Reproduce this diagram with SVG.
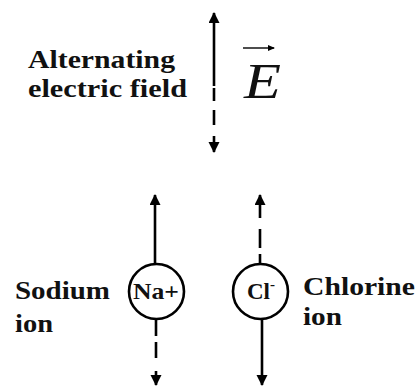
<svg xmlns="http://www.w3.org/2000/svg" width="417" height="389" viewBox="0 0 417 389">
<style>
.lbl{font-family:Tinos,"Liberation Serif",FreeSerif,"Nimbus Roman","Noto Serif","DejaVu Serif",Georgia,serif;font-weight:bold;font-size:26px;fill:#111}
.ion{font-family:Tinos,"Liberation Serif",FreeSerif,"Nimbus Roman","Noto Serif","DejaVu Serif",Georgia,serif;font-weight:bold;font-size:23px;fill:#111}
.ln{stroke:#000;stroke-width:2.6;fill:none}
.circ{stroke:#000;stroke-width:2.6;fill:#fff}
.ev{font-family:Tinos,"Liberation Serif",FreeSerif,"Nimbus Roman","Noto Serif","DejaVu Serif",Georgia,serif;font-style:italic;font-size:50px;fill:#111}
</style>
<defs>
<marker id="ah" markerUnits="userSpaceOnUse" markerWidth="12" markerHeight="12" refX="10" refY="5.5" orient="auto">
<path d="M0,0 L11,5.5 L0,11 Z" fill="#000"/>
</marker>
<marker id="ahs" markerUnits="userSpaceOnUse" markerWidth="8" markerHeight="8" refX="6" refY="3" orient="auto">
<path d="M0,0 L7,3 L0,6 Z" fill="#000"/>
</marker>
</defs>
<g id="connectors">
<line class="ln" x1="214" y1="86" x2="214" y2="13" marker-end="url(#ah)"/>
<path class="ln" d="M214,88 V101 M214,110 V125 M214,136 V152" marker-end="url(#ah)"/>
<line class="ln" x1="155" y1="264" x2="155" y2="195" marker-end="url(#ah)"/>
<path class="ln" d="M260,264 V254 M260,248 V229 M260,218 V195" marker-end="url(#ah)"/>
<path class="ln" d="M156,320 V336 M156,342 V358 M156,371 V385" marker-end="url(#ah)"/>
<line class="ln" x1="262" y1="319" x2="262" y2="385" marker-end="url(#ah)"/>
</g>
<g id="field-label">
<text class="lbl" x="28" y="68" textLength="147" lengthAdjust="spacingAndGlyphs">Alternating</text>
<text class="lbl" x="28" y="97" textLength="159" lengthAdjust="spacingAndGlyphs">electric field</text>
</g>
<g id="E-vector">
<line x1="243" y1="48" x2="274" y2="48" stroke="#000" stroke-width="1.4" marker-end="url(#ahs)"/>
<text class="ev" x="244" y="98" textLength="37" lengthAdjust="spacingAndGlyphs">E</text>
</g>
<g id="sodium">
<circle class="circ" cx="156.5" cy="291.5" r="27.5"/>
<text class="ion" x="133" y="299" textLength="46" lengthAdjust="spacingAndGlyphs">Na+</text>
<text class="lbl" x="15" y="299" textLength="95" lengthAdjust="spacingAndGlyphs">Sodium</text>
<text class="lbl" x="15" y="332" textLength="38" lengthAdjust="spacingAndGlyphs">ion</text>
</g>
<g id="chlorine">
<circle class="circ" cx="260.5" cy="291.5" r="27.5"/>
<text class="ion" x="247" y="299">Cl<tspan font-size="15" dy="-10">-</tspan></text>
<text class="lbl" x="303" y="295" textLength="112" lengthAdjust="spacingAndGlyphs">Chlorine</text>
<text class="lbl" x="303" y="325" textLength="39" lengthAdjust="spacingAndGlyphs">ion</text>
</g>
</svg>
